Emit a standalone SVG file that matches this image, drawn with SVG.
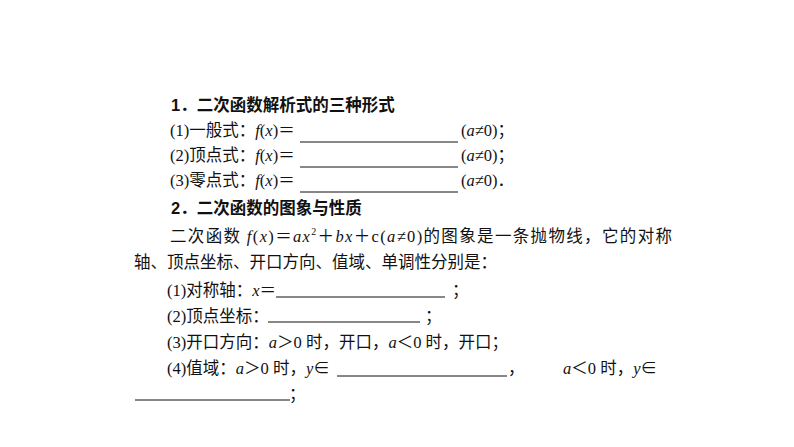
<svg xmlns="http://www.w3.org/2000/svg" width="794" height="447" viewBox="0 0 794 447">
<style>
text{font-family:"Liberation Serif","Noto Sans CJK SC",serif;font-size:16.5px;fill:#111}
.h{font-family:"Liberation Sans","Noto Sans CJK SC",sans-serif;font-weight:bold;font-size:16.5px}
.i{font-style:italic}
line{stroke:#111;stroke-width:1}
</style>
<rect width="794" height="447" fill="#fff"/>
<text class="h" x="171" y="111">1．二次函数解析式的三种形式</text>
<text x="170" y="136">(1)一般式：<tspan class="i">f</tspan>(<tspan class="i">x</tspan>)＝</text>
<line x1="300" y1="142" x2="458" y2="142"/>
<text x="461" y="136">(<tspan class="i">a</tspan>≠0)；</text>
<text x="170" y="161">(2)顶点式：<tspan class="i">f</tspan>(<tspan class="i">x</tspan>)＝</text>
<line x1="300" y1="167" x2="458" y2="167"/>
<text x="461" y="161">(<tspan class="i">a</tspan>≠0)；</text>
<text x="170" y="186">(3)零点式：<tspan class="i">f</tspan>(<tspan class="i">x</tspan>)＝</text>
<line x1="300" y1="192" x2="458" y2="192"/>
<text x="461" y="186">(<tspan class="i">a</tspan>≠0)．</text>
<text class="h" x="171" y="214">2．二次函数的图象与性质</text>
<text x="170" y="242" textLength="502">二次函数 <tspan class="i">f</tspan>(<tspan class="i">x</tspan>)＝<tspan class="i">ax</tspan><tspan font-size="10" dy="-7">2</tspan><tspan dy="7">＋</tspan><tspan class="i">bx</tspan>＋c(<tspan class="i">a</tspan>≠0)的图象是一条抛物线，它的对称</text>
<text x="134" y="268">轴、顶点坐标、开口方向、值域、单调性分别是：</text>
<text x="167" y="296">(1)对称轴：<tspan class="i">x</tspan>＝</text>
<line x1="276" y1="297" x2="445" y2="297"/>
<text x="452" y="296">；</text>
<text x="167" y="322">(2)顶点坐标：</text>
<line x1="268" y1="322" x2="420" y2="322"/>
<text x="425" y="322">；</text>
<text x="167" y="348">(3)开口方向：<tspan class="i">a</tspan>＞0 时，开口，<tspan class="i">a</tspan>＜0 时，开口；</text>
<text x="167" y="374">(4)值域：<tspan class="i">a</tspan>＞0  时，<tspan class="i">y</tspan>∈</text>
<line x1="337" y1="376" x2="507" y2="376"/>
<text x="508" y="374">，</text>
<text x="563" y="374"><tspan class="i">a</tspan>＜0  时，<tspan class="i">y</tspan>∈</text>
<line x1="135" y1="400" x2="290" y2="400"/>
<text x="289" y="400">；</text>
</svg>
